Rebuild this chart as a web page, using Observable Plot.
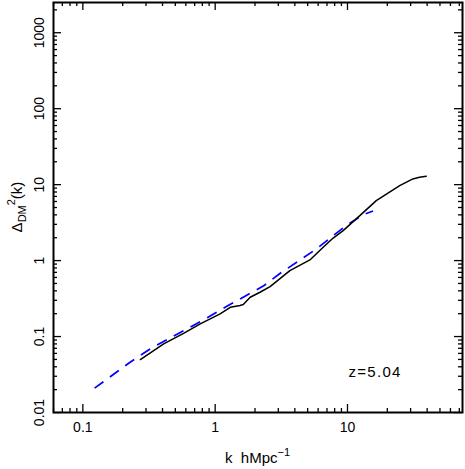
<!DOCTYPE html>
<html>
<head>
<meta charset="utf-8">
<script src="https://cdn.jsdelivr.net/npm/d3@7"></script>
<script src="https://cdn.jsdelivr.net/npm/@observablehq/plot@0.6"></script>
<style>
  html, body { margin: 0; padding: 0; background: #fff; }
  svg { display: block; }
</style>
</head>
<body>
<div id="chart"></div>
<script>
// ---- data ----
const kSim = [0.272, 0.408, 0.577, 0.771, 1.09, 1.30, 1.54, 1.63, 1.84, 2.18, 2.60, 3.67, 5.2, 6.55, 7.79, 9.27, 12.4, 16.5, 24.8, 31.2, 35.0, 39.4];
const dSim = [0.0498, 0.080, 0.110, 0.147, 0.199, 0.243, 0.256, 0.264, 0.329, 0.383, 0.455, 0.739, 1.02, 1.50, 1.98, 2.48, 3.91, 6.16, 9.7, 11.9, 12.5, 12.9];

const kLin = [0.1226, 0.229, 0.324, 0.458, 0.648, 0.89, 1.225, 1.68, 2.31, 3.18, 4.24, 5.84, 7.79, 9.55, 11.3, 13.1, 15.6];
const dLin = [0.0209, 0.0463, 0.069, 0.096, 0.133, 0.181, 0.250, 0.340, 0.462, 0.702, 0.979, 1.43, 2.13, 2.8, 3.4, 4.0, 4.5];

const xMajor = [0.1, 1, 10];
const xMajorLabels = ["0.1", "1", "10"];
const yMajor = [0.01, 0.1, 1, 10, 100, 1000];
const yMajorLabels = ["0.01", "0.1", "1", "10", "100", "1000"];
const minorMult = [2, 3, 4, 5, 6, 7, 8, 9];
const xDecades = [0.01, 0.1, 1, 10];
const yDecades = [0.01, 0.1, 1, 10, 100, 1000];
const annotation = ["z=5.04"];

const xDomain = [0.06, 74];
const yDomain = [0.01, 2500];

// ---- build tables ----
const sim = kSim.map((k, i) => ({k, d: dSim[i]}));
const lin = kLin.map((k, i) => ({k, d: dLin[i]}));
const inX = v => v >= xDomain[0] && v <= xDomain[1];
const inY = v => v >= yDomain[0] && v <= yDomain[1];
const xMinor = xDecades.flatMap(d => minorMult.map(m => +(d * m).toPrecision(6))).filter(inX);
const yMinor = yDecades.flatMap(d => minorMult.map(m => +(d * m).toPrecision(6))).filter(inY);

const W = 465, H = 469;
const mL = 53, mR = 3, mT = 2, mB = 57;
const fw = W - mL - mR, fh = H - mT - mB;
const MAJ = 8, MIN = 4;
const font = "'Liberation Sans', Arial, Helvetica, sans-serif";

const tickStyle = {stroke: "black", strokeWidth: 1.3};

const plot = Plot.plot({
  width: W,
  height: H,
  marginLeft: mL, marginRight: mR, marginTop: mT, marginBottom: mB,
  style: {fontFamily: font, background: "white", color: "black"},
  x: {type: "log", domain: xDomain, axis: null},
  y: {type: "log", domain: yDomain, axis: null},
  marks: [
    // inward ticks, bottom & top
    Plot.tickX(xMajor, {x: d => d, insetTop: fh - MAJ, ...tickStyle}),
    Plot.tickX(xMinor, {x: d => d, insetTop: fh - MIN, ...tickStyle}),
    Plot.tickX(xMajor, {x: d => d, insetBottom: fh - MAJ, ...tickStyle}),
    Plot.tickX(xMinor, {x: d => d, insetBottom: fh - MIN, ...tickStyle}),
    // inward ticks, left & right
    Plot.tickY(yMajor, {y: d => d, insetRight: fw - MAJ, ...tickStyle}),
    Plot.tickY(yMinor, {y: d => d, insetRight: fw - MIN, ...tickStyle}),
    Plot.tickY(yMajor, {y: d => d, insetLeft: fw - MAJ, ...tickStyle}),
    Plot.tickY(yMinor, {y: d => d, insetLeft: fw - MIN, ...tickStyle}),
    // tick labels
    Plot.text(xMajor, {x: d => d, frameAnchor: "bottom", dy: 15.5, text: (d, i) => xMajorLabels[i],
      fontSize: 14, lineAnchor: "middle", fill: "black"}),
    Plot.text(yMajor, {y: d => d, frameAnchor: "left", dx: -14, rotate: -90, text: (d, i) => yMajorLabels[i],
      fontSize: 14, textAnchor: "middle", lineAnchor: "middle", fill: "black"}),
    // curves
    Plot.line(lin, {x: "k", y: "d", stroke: "#0000ff", strokeWidth: 1.7, strokeDasharray: "11,8", strokeLinecap: "butt"}),
    Plot.line(sim, {x: "k", y: "d", stroke: "black", strokeWidth: 1.5}),
    // annotation
    Plot.text(annotation, {x: () => 10.18, y: () => 0.0343, text: d => d, textAnchor: "start",
      lineAnchor: "middle", fontSize: 15, fill: "black"}),
    Plot.frame({stroke: "black", strokeWidth: 2})
  ]
});

const svg = d3.select(plot);
svg.selectAll("text").filter(function() { return this.textContent === "z=5.04"; }).attr("letter-spacing", "1.3px");

// x axis title with superscript
const xt = svg.append("text")
  .attr("x", mL + fw / 2).attr("y", 463)
  .attr("text-anchor", "middle")
  .attr("font-family", font).attr("font-size", 15).attr("fill", "black");
xt.append("tspan").text("k\u00a0\u00a0hMpc");
xt.append("tspan").attr("dy", -7).attr("font-size", 11).text("\u22121");

// y axis title: Δ_DM^2(k)
const yt = svg.append("text")
  .attr("transform", `translate(22,${mT + fh / 2}) rotate(-90)`)
  .attr("text-anchor", "middle")
  .attr("font-family", font).attr("font-size", 15).attr("fill", "black");
yt.append("tspan").text("\u0394");
yt.append("tspan").attr("dy", 4).attr("font-size", 11).text("DM");
yt.append("tspan").attr("dy", -11).attr("font-size", 11).text("2");
yt.append("tspan").attr("dy", 7).text("(k)");

document.getElementById("chart").appendChild(plot);
</script>
</body>
</html>
